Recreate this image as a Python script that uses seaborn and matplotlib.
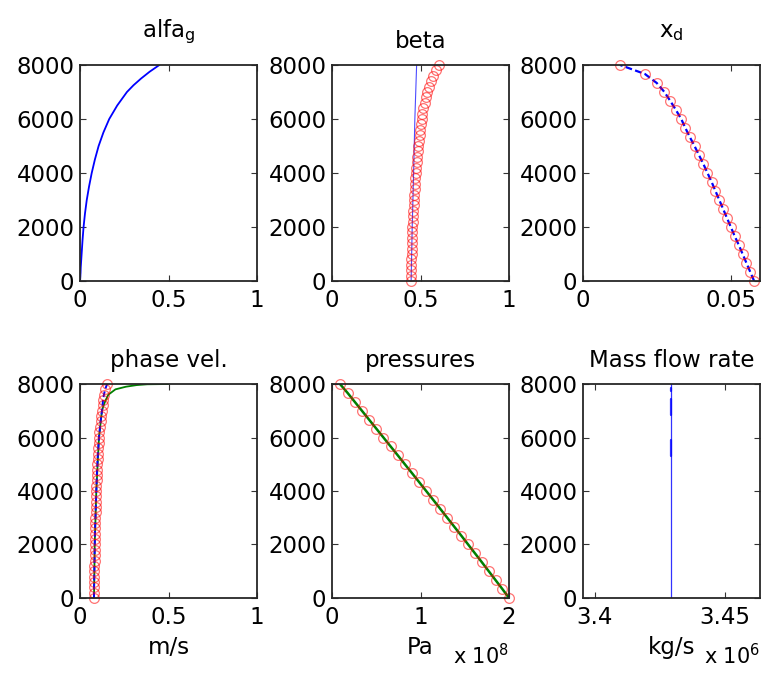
import numpy as np
import pandas as pd
import matplotlib
matplotlib.use("Agg")
import matplotlib.pyplot as plt
import seaborn as sns

#-------------DATA-------------
# profundidades (m)
depth_fine = [0, 200, 400, 600, 800, 1000, 1200, 1400, 1600, 1800, 2000,
              2200, 2400, 2600, 2800, 3000, 3200, 3400, 3600, 3800, 4000,
              4200, 4400, 4600, 4800, 5000, 5200, 5400, 5600, 5800, 6000,
              6200, 6400, 6600, 6800, 7000, 7200, 7400, 7600, 7800, 8000]
depth_coarse = [0, 333.3, 666.7, 1000, 1333.3, 1666.7, 2000, 2333.3, 2666.7,
                3000, 3333.3, 3666.7, 4000, 4333.3, 4666.7, 5000, 5333.3,
                5666.7, 6000, 6333.3, 6666.7, 7000, 7333.3, 7666.7, 8000]

# alfa_g
alfa_depth = [0, 100, 300, 500, 1000, 1500, 2000, 2500, 3000, 3500, 4000,
              4500, 5000, 5500, 6000, 6500, 7000, 7250, 7500, 7750, 8000]
alfa_g = [0.0, 0.001, 0.003, 0.004, 0.009, 0.014, 0.020, 0.028, 0.038, 0.051,
          0.066, 0.084, 0.105, 0.132, 0.165, 0.210, 0.265, 0.302, 0.345,
          0.393, 0.448]

# beta
beta_circles = [0.447, 0.447, 0.448, 0.448, 0.449, 0.450, 0.450, 0.451, 0.452,
                0.453, 0.454, 0.456, 0.457, 0.459, 0.461, 0.463, 0.465, 0.467,
                0.469, 0.471, 0.473, 0.476, 0.479, 0.482, 0.485, 0.488, 0.491,
                0.495, 0.499, 0.503, 0.507, 0.511, 0.516, 0.523, 0.530, 0.539,
                0.548, 0.558, 0.570, 0.585, 0.605]
beta_line_depth = [0, 2000, 4000, 6000, 8000]
beta_line = [0.447, 0.453, 0.461, 0.468, 0.478]

# x_d
x_d = [0.0580, 0.0567, 0.0554, 0.0541, 0.0528, 0.0514, 0.0501, 0.0488, 0.0475,
       0.0462, 0.0449, 0.0436, 0.0422, 0.0408, 0.0393, 0.0378, 0.0362, 0.0347,
       0.0333, 0.0315, 0.0296, 0.0276, 0.0250, 0.0210, 0.0126]

# phase vel.
phase_circles = [0.079, 0.079, 0.079, 0.080, 0.080, 0.081, 0.081, 0.082, 0.082,
                 0.083, 0.083, 0.084, 0.084, 0.085, 0.086, 0.087, 0.088, 0.089,
                 0.090, 0.091, 0.092, 0.093, 0.094, 0.095, 0.096, 0.098, 0.099,
                 0.101, 0.103, 0.105, 0.107, 0.110, 0.113, 0.116, 0.120, 0.124,
                 0.127, 0.130, 0.135, 0.142, 0.153]
gas_depth = [0, 2000, 4000, 6000, 7000, 7200, 7400, 7600, 7800, 7900, 7960,
             7990, 8000]
gas_vel = [0.079, 0.083, 0.092, 0.107, 0.124, 0.133, 0.145, 0.160, 0.200,
           0.260, 0.320, 0.380, 0.500]

# pressures (Pa)
pressure = [2.000e8, 1.925e8, 1.848e8, 1.771e8, 1.694e8, 1.616e8, 1.538e8,
            1.460e8, 1.381e8, 1.302e8, 1.223e8, 1.144e8, 1.064e8, 0.984e8,
            0.904e8, 0.823e8, 0.743e8, 0.662e8, 0.581e8, 0.500e8, 0.419e8,
            0.338e8, 0.257e8, 0.176e8, 0.090e8]

# mass flow rate (kg/s)
mass_depth = [0, 8000]
mass_rate = [3.4294e6, 3.4294e6]
mass_thick_segments = [[5300, 5900], [6850, 7450], [7750, 7850]]

#-------------ESTILO-------------
sns.set_style("ticks")
FS = 16.5
plt.rcParams["font.family"] = ["DejaVu Sans"]
plt.rcParams["mathtext.fontset"] = "dejavusans"
plt.rcParams["font.size"] = FS
plt.rcParams["text.color"] = "black"
plt.rcParams["axes.labelcolor"] = "black"
plt.rcParams["xtick.color"] = "black"
plt.rcParams["ytick.color"] = "black"

fig = plt.figure(figsize=(7.68, 6.75), dpi=100)
lefts = [0.1042, 0.4323, 0.7591]
w = 0.2305
axs = []
for b, h in [(0.5837, 0.32), (0.1141, 0.317)]:
    for l in lefts:
        axs.append(fig.add_axes([l, b, w, h]))

BLUE = "#0000ff"
GREEN = "#008000"


def circles(ax, x, y):
    sns.lineplot(x=x, y=y, ax=ax, sort=False, estimator=None, linestyle="",
                 marker="o", markersize=7, markerfacecolor="none",
                 markeredgecolor="red", markeredgewidth=0.9, alpha=0.55,
                 clip_on=False)


# alfa_g
ax = axs[0]
sns.lineplot(x=alfa_g, y=alfa_depth, ax=ax, sort=False, estimator=None,
             color=BLUE, linewidth=1.3)
ax.set_xlim(0, 1)
ax.set_xticks([0, 0.5, 1])
ax.set_xticklabels(["0", "0.5", "1"])
ax.set_title("alfa$_\\mathrm{g}$", pad=20, fontsize=FS)

# beta
ax = axs[1]
sns.lineplot(x=beta_line, y=beta_line_depth, ax=ax, sort=False,
             estimator=None, color=BLUE, linewidth=0.8, alpha=0.7)
circles(ax, beta_circles, depth_fine)
ax.set_xlim(0, 1)
ax.set_xticks([0, 0.5, 1])
ax.set_xticklabels(["0", "0.5", "1"])
ax.set_title("beta", pad=12, fontsize=FS)

# x_d
ax = axs[2]
sns.lineplot(x=x_d, y=depth_coarse, ax=ax, sort=False, estimator=None,
             color=BLUE, linewidth=1.6, linestyle=(0, (3, 1.5)))
circles(ax, x_d, depth_coarse)
ax.set_xlim(0, 0.06)
ax.set_xticks([0, 0.05])
ax.set_xticklabels(["0", "0.05"])
ax.set_title("x$_\\mathrm{d}$", pad=20, fontsize=FS)

# phase vel.
ax = axs[3]
sns.lineplot(x=gas_vel, y=gas_depth, ax=ax, sort=False, estimator=None,
             color=GREEN, linewidth=1.3)
sns.lineplot(x=phase_circles, y=depth_fine, ax=ax, sort=False, estimator=None,
             color=BLUE, linewidth=1.4, linestyle=(0, (3, 1.5)))
circles(ax, phase_circles, depth_fine)
ax.set_xlim(0, 1)
ax.set_xticks([0, 0.5, 1])
ax.set_xticklabels(["0", "0.5", "1"])
ax.set_title("phase vel.", pad=12, fontsize=FS)
ax.set_xlabel("m/s", labelpad=5)

# pressures
ax = axs[4]
sns.lineplot(x=pressure, y=depth_coarse, ax=ax, sort=False, estimator=None,
             color=GREEN, linewidth=1.8)
circles(ax, pressure, depth_coarse)
ax.set_xlim(0, 2e8)
ax.set_xticks([0, 1e8, 2e8])
ax.set_xticklabels(["0", "1", "2"])
ax.set_title("pressures", pad=12, fontsize=FS)
ax.set_xlabel("Pa", labelpad=5)
ax.text(1.0, -0.31, "x 10$^{8}$", transform=ax.transAxes, ha="right",
        va="baseline", fontsize=15)

# mass flow rate
ax = axs[5]
sns.lineplot(x=mass_rate, y=mass_depth, ax=ax, sort=False, estimator=None,
             color=BLUE, linewidth=0.9, alpha=0.8)
for seg in mass_thick_segments:
    sns.lineplot(x=mass_rate, y=seg, ax=ax, sort=False, estimator=None,
                 color=BLUE, linewidth=1.6, alpha=0.8)
ax.set_xlim(3.3954e6, 3.4635e6)
ax.set_xticks([3.4e6, 3.45e6])
ax.set_xticklabels(["3.4", "3.45"])
ax.set_title("Mass flow rate", pad=12, fontsize=FS)
ax.set_xlabel("kg/s", labelpad=5)
ax.text(1.0, -0.31, "x 10$^{6}$", transform=ax.transAxes, ha="right",
        va="baseline", fontsize=15)

for ax in axs:
    ax.set_ylim(0, 8000)
    ax.set_yticks([0, 2000, 4000, 6000, 8000])
    ax.set_yticklabels(["0", "2000", "4000", "6000", "8000"])
    ax.set_ylabel("")
    ax.tick_params(direction="in", top=True, right=True, length=4,
                   width=0.8, labelsize=FS, color="#333333",
                   labelcolor="black")
    ax.tick_params(axis="x", pad=6)
    ax.tick_params(axis="y", pad=4)
    for s in ax.spines.values():
        s.set_visible(True)
        s.set_linewidth(1.3)
        s.set_color("#262626")

fig.savefig("out.png", dpi=100)
